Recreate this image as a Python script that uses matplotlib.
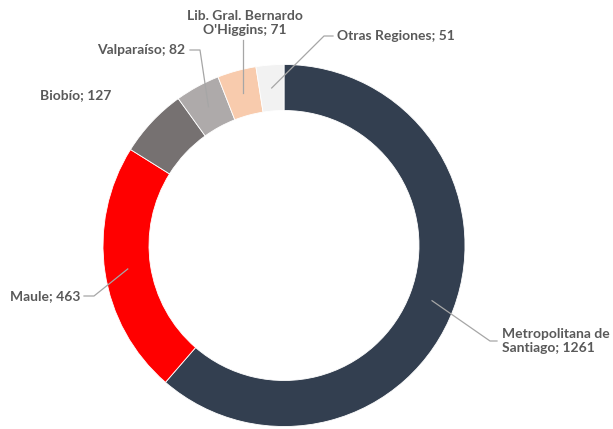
import matplotlib.pyplot as plt
import numpy as np

regions = ["Metropolitana de\nSantiago", "Maule", "Biobío", "Valparaíso",
           "Lib. Gral. Bernardo\nO'Higgins", "Otras Regiones"]
counts = [1261, 463, 127, 82, 71, 51]
colors = ["#333F50", "#FF0000", "#767171", "#AEAAAA", "#F8CBAD", "#F2F2F2"]

W, H = 613, 429
fig = plt.figure(figsize=(W / 100, H / 100), dpi=100)
ax = fig.add_axes([0, 0, 1, 1])

cx, cy, r = 284, H - 245.5, 181
ax.pie(counts, colors=colors, startangle=90, counterclock=False,
       center=(cx, cy), radius=r, frame=True,
       wedgeprops=dict(width=46, edgecolor="white", linewidth=0.6))
ax.set_xlim(0, W)
ax.set_ylim(0, H)
ax.set_aspect("equal")
ax.axis("off")

# mid angles (standard, degrees) for the leader lines
fr = np.array(counts) / sum(counts) * 360
ends = np.cumsum(fr)
mids = 90 - (ends - fr / 2)


def anchor(i, rr=158):
    a = np.deg2rad(mids[i])
    return cx + rr * np.cos(a), cy + rr * np.sin(a)


txt = dict(color="#595959", fontsize=10, fontweight="bold", family=["Lato", "DejaVu Sans"])
line = dict(color="#A6A6A6", lw=0.9)

# label placement (pixel coords from the top-left, flipped)
pos = {
    0: (502, 341, "left", None),
    1: (10, 296, "left", (84, 94)),
    2: (40, 95, "left", None),
    3: (97, 50, "left", (190, 200)),
    4: (245, 23, "center", None),
    5: (337, 36, "left", (333, 324)),
}

for i, (x, y, ha, hseg) in pos.items():
    label = f"{regions[i]}; {counts[i]}"
    ax.text(x, H - y, label, ha=ha, va="center", linespacing=1.3, **txt)
    ax_, ay_ = anchor(i)
    if i == 0:
        ax.plot([ax_, 490, 497], [ay_, H - 341, H - 341], **line)
    elif i == 4:
        ax.plot([ax_, ax_], [ay_, H - 40], **line)
    elif hseg is not None:
        ax.plot([hseg[0], hseg[1], ax_], [H - y, H - y, ay_], **line)

fig.savefig("out.png", dpi=100, facecolor="white")
